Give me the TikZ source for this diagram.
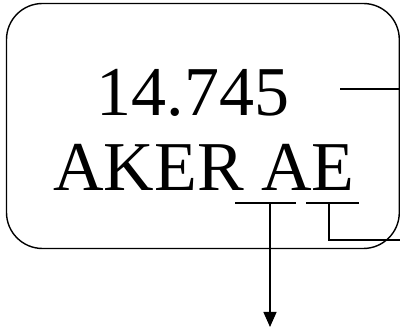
\documentclass[tikz,border=0pt]{standalone}
\usepackage{fontspec}
\setmainfont{Liberation Serif}
\usepackage{tikz}
\usetikzlibrary{positioning,arrows.meta}

\begin{document}
\begin{tikzpicture}[x=1pt, y=1pt, line width=1.4pt, every node/.style={font=\fontsize{70}{84}\selectfont, inner sep=0pt, anchor=base}]
   \useasboundingbox (0,0) rectangle (400,328);
    % Rounded frame
    \draw[rounded corners=36pt] (6.5,324.5) rectangle (399.3,79.5);

    % Texts
    \node (num) at (193,212) {14.745};
    \node (code) at (204,137) {AKER AE};

    % Underlines below the two letters
    \coordinate (aL) at (235,125);
    \coordinate (aR) at (296,125);
    \coordinate (eL) at (306,125);
    \coordinate (eR) at (359,125);
    \draw (aL) -- (aR);
    \draw (eL) -- (eR);

    % Leaders to the right
    \coordinate (numEnd) at (340,239);
    \coordinate (numOut) at (400,239);
    \draw (numEnd) -- (numOut);
    \coordinate (eMid) at (329,125);
    \coordinate (eOut) at (400,88);
    \draw (eMid) |- (eOut);

    % Arrow downwards
    \coordinate (aMid) at (270,125);
    \coordinate (down) at (270,1);
    \draw[-{Triangle[width=13pt,length=15pt]}] (aMid) -- (down);
\end{tikzpicture}
\end{document}
